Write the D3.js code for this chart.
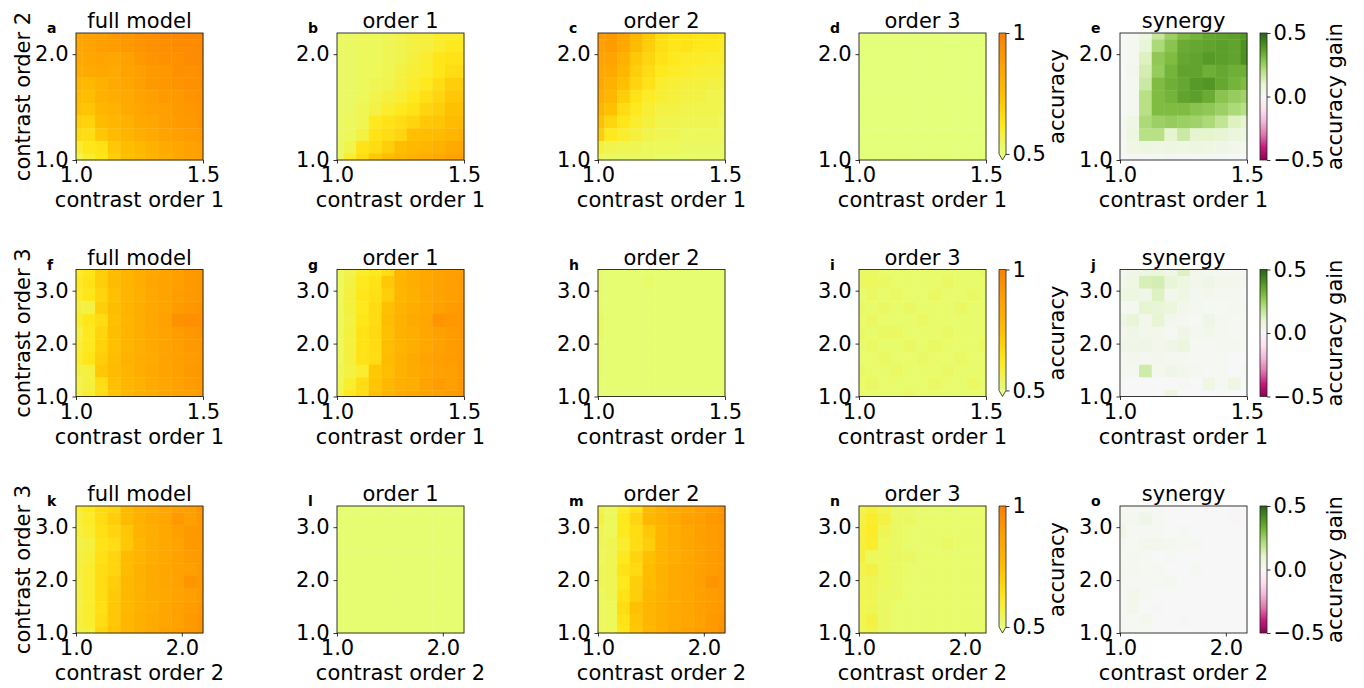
<!DOCTYPE html>
<html><head><meta charset="utf-8">
<script src="https://cdn.jsdelivr.net/npm/d3@7"></script>
<style>
body{margin:0;background:#fff;}
text{font-family:"DejaVu Sans",sans-serif;fill:#000;}
</style></head><body>
<svg id="chart" width="1364" height="688"></svg>
<script>
// ---- grid coordinates and ticks ----
const contrastOrder1 = [1.0,1.05,1.1,1.15,1.2,1.25,1.3,1.35,1.4,1.45,1.5];
const contrastOrder2 = [1.0,1.12,1.24,1.36,1.48,1.6,1.72,1.84,1.96,2.08,2.2];
const contrastOrder3 = [1.0,1.24,1.48,1.72,1.96,2.2,2.44,2.68,2.92,3.16,3.4];
const ticksOrder1 = [1.0,1.5];
const ticksOrder2 = [1.0,2.0];
const ticksOrder3 = [1.0,2.0,3.0];
const panelTitles = ["full model","order 1","order 2","order 3","synergy"];
const panelLetters = ["a","b","c","d","e","f","g","h","i","j","k","l","m","n","o"];
const rowXLabels = ["contrast order 1","contrast order 1","contrast order 2"];
const rowYLabels = ["contrast order 2","contrast order 3","contrast order 3"];
const accuracyTicks = [0.5,1];
const gainTicks = [-0.5,0,0.5];
const accuracyLabel = "accuracy";
const gainLabel = "accuracy gain";

// ---- values: each grid lists rows from top (highest y contrast) to bottom ----
const aFull = [
[0.86,0.87,0.88,0.90,0.91,0.93,0.94,0.95,0.96,0.97,0.97],
[0.85,0.86,0.88,0.89,0.90,0.92,0.93,0.94,0.95,0.95,0.96],
[0.84,0.85,0.86,0.85,0.87,0.90,0.92,0.93,0.93,0.95,0.95],
[0.82,0.83,0.84,0.83,0.86,0.88,0.90,0.91,0.93,0.93,0.94],
[0.78,0.77,0.80,0.83,0.85,0.88,0.90,0.91,0.92,0.93,0.93],
[0.76,0.75,0.80,0.82,0.83,0.86,0.88,0.90,0.90,0.92,0.93],
[0.74,0.73,0.78,0.80,0.83,0.85,0.87,0.88,0.90,0.91,0.92],
[0.70,0.69,0.76,0.78,0.80,0.84,0.85,0.88,0.89,0.90,0.92],
[0.67,0.66,0.72,0.76,0.79,0.82,0.83,0.86,0.88,0.89,0.90],
[0.60,0.63,0.64,0.72,0.75,0.77,0.80,0.83,0.85,0.87,0.88],
[0.55,0.60,0.63,0.70,0.74,0.76,0.79,0.81,0.84,0.86,0.87]];
const bOrder1 = [
[0.53,0.53,0.54,0.54,0.55,0.56,0.58,0.58,0.60,0.60,0.61],
[0.53,0.53,0.54,0.54,0.55,0.56,0.57,0.58,0.60,0.62,0.62],
[0.53,0.53,0.54,0.54,0.55,0.56,0.58,0.60,0.63,0.64,0.64],
[0.53,0.53,0.54,0.54,0.55,0.57,0.59,0.60,0.63,0.66,0.66],
[0.53,0.53,0.54,0.55,0.56,0.58,0.60,0.62,0.66,0.70,0.70],
[0.53,0.53,0.54,0.56,0.58,0.59,0.62,0.65,0.68,0.72,0.72],
[0.53,0.53,0.55,0.57,0.60,0.62,0.64,0.68,0.70,0.74,0.74],
[0.53,0.54,0.55,0.62,0.64,0.66,0.68,0.72,0.73,0.76,0.76],
[0.53,0.54,0.57,0.64,0.66,0.68,0.74,0.75,0.76,0.78,0.80],
[0.53,0.56,0.64,0.66,0.70,0.75,0.77,0.78,0.80,0.83,0.84],
[0.53,0.60,0.66,0.72,0.75,0.78,0.80,0.82,0.84,0.86,0.88]];
const cOrder2 = [
[0.90,0.90,0.86,0.78,0.72,0.66,0.64,0.64,0.63,0.63,0.62],
[0.88,0.89,0.84,0.76,0.70,0.65,0.63,0.64,0.62,0.62,0.61],
[0.86,0.86,0.80,0.72,0.68,0.64,0.62,0.61,0.61,0.60,0.60],
[0.85,0.84,0.78,0.70,0.66,0.62,0.61,0.60,0.59,0.59,0.58],
[0.84,0.80,0.74,0.68,0.64,0.60,0.59,0.58,0.58,0.57,0.57],
[0.82,0.78,0.70,0.64,0.61,0.59,0.58,0.57,0.57,0.56,0.56],
[0.78,0.74,0.66,0.62,0.59,0.57,0.57,0.56,0.56,0.56,0.55],
[0.74,0.68,0.63,0.60,0.58,0.56,0.56,0.55,0.55,0.55,0.54],
[0.70,0.62,0.60,0.58,0.56,0.55,0.55,0.54,0.54,0.54,0.54],
[0.58,0.56,0.55,0.55,0.54,0.54,0.54,0.53,0.53,0.53,0.53],
[0.54,0.53,0.53,0.53,0.53,0.52,0.52,0.52,0.52,0.52,0.52]];
const dOrder3 = [
[0.50,0.50,0.50,0.50,0.50,0.50,0.50,0.50,0.50,0.50,0.50],
[0.50,0.50,0.50,0.50,0.50,0.50,0.50,0.50,0.50,0.50,0.50],
[0.50,0.50,0.50,0.50,0.50,0.50,0.50,0.50,0.50,0.50,0.50],
[0.50,0.50,0.50,0.50,0.50,0.50,0.50,0.50,0.50,0.50,0.50],
[0.50,0.50,0.50,0.50,0.50,0.50,0.50,0.50,0.50,0.50,0.50],
[0.50,0.50,0.50,0.50,0.50,0.50,0.50,0.50,0.50,0.50,0.50],
[0.50,0.50,0.50,0.50,0.50,0.50,0.50,0.50,0.50,0.50,0.50],
[0.50,0.50,0.50,0.50,0.50,0.50,0.50,0.50,0.50,0.50,0.50],
[0.50,0.50,0.50,0.50,0.50,0.50,0.50,0.50,0.50,0.50,0.50],
[0.50,0.50,0.50,0.50,0.50,0.50,0.50,0.50,0.50,0.50,0.50],
[0.50,0.50,0.50,0.50,0.50,0.50,0.50,0.50,0.50,0.50,0.50]];
const eSynergy = [
[0.00,0.01,0.06,0.17,0.25,0.30,0.32,0.35,0.36,0.37,0.38],
[0.00,0.02,0.08,0.22,0.28,0.34,0.35,0.36,0.37,0.36,0.40],
[0.00,0.02,0.12,0.27,0.30,0.35,0.36,0.38,0.37,0.36,0.40],
[0.00,0.03,0.14,0.26,0.32,0.36,0.36,0.33,0.35,0.33,0.33],
[0.00,0.02,0.16,0.30,0.33,0.35,0.38,0.39,0.35,0.32,0.30],
[0.00,0.02,0.20,0.30,0.32,0.36,0.37,0.34,0.28,0.26,0.24],
[0.00,0.02,0.20,0.30,0.30,0.30,0.28,0.27,0.25,0.22,0.20],
[0.02,0.05,0.22,0.25,0.26,0.25,0.24,0.22,0.18,0.12,0.10],
[0.02,0.06,0.20,0.20,0.10,0.16,0.10,0.10,0.09,0.07,0.06],
[0.01,0.05,0.06,0.05,0.06,0.05,0.06,0.05,0.04,0.03,0.02],
[0.00,0.01,0.01,0.01,0.02,0.01,0.01,0.01,0.01,0.00,0.00]];
const fFull = [
[0.60,0.63,0.70,0.75,0.79,0.82,0.84,0.86,0.88,0.90,0.91],
[0.62,0.64,0.70,0.76,0.79,0.82,0.85,0.86,0.88,0.90,0.91],
[0.61,0.63,0.68,0.74,0.78,0.81,0.84,0.86,0.89,0.90,0.91],
[0.58,0.57,0.70,0.75,0.79,0.82,0.84,0.86,0.89,0.91,0.92],
[0.60,0.63,0.66,0.74,0.78,0.82,0.85,0.87,0.93,0.94,0.93],
[0.57,0.62,0.68,0.75,0.79,0.82,0.84,0.86,0.89,0.91,0.92],
[0.59,0.62,0.69,0.74,0.78,0.81,0.84,0.86,0.88,0.90,0.91],
[0.60,0.63,0.70,0.75,0.80,0.82,0.83,0.86,0.88,0.89,0.90],
[0.58,0.58,0.72,0.76,0.79,0.82,0.84,0.86,0.88,0.90,0.91],
[0.56,0.58,0.66,0.74,0.78,0.80,0.83,0.85,0.87,0.89,0.90],
[0.56,0.60,0.66,0.73,0.77,0.80,0.82,0.85,0.87,0.88,0.90]];
const gOrder1 = [
[0.54,0.56,0.60,0.62,0.66,0.78,0.82,0.84,0.86,0.88,0.88],
[0.54,0.57,0.62,0.64,0.72,0.79,0.82,0.84,0.86,0.88,0.89],
[0.54,0.58,0.63,0.65,0.70,0.78,0.81,0.84,0.86,0.88,0.89],
[0.54,0.58,0.62,0.66,0.74,0.79,0.82,0.84,0.87,0.89,0.90],
[0.54,0.57,0.63,0.66,0.75,0.80,0.83,0.85,0.92,0.91,0.90],
[0.54,0.58,0.64,0.67,0.74,0.80,0.82,0.85,0.87,0.89,0.90],
[0.54,0.58,0.64,0.66,0.75,0.79,0.82,0.84,0.87,0.89,0.90],
[0.54,0.58,0.64,0.66,0.76,0.80,0.83,0.86,0.88,0.89,0.90],
[0.55,0.57,0.60,0.72,0.75,0.80,0.83,0.85,0.87,0.88,0.90],
[0.55,0.60,0.66,0.73,0.77,0.81,0.82,0.86,0.89,0.88,0.90],
[0.56,0.62,0.66,0.74,0.78,0.82,0.84,0.86,0.88,0.89,0.90]];
const hOrder2 = [
[0.52,0.51,0.51,0.51,0.51,0.51,0.51,0.51,0.51,0.51,0.51],
[0.52,0.51,0.51,0.51,0.52,0.51,0.51,0.51,0.51,0.51,0.51],
[0.52,0.51,0.51,0.51,0.51,0.51,0.51,0.51,0.51,0.51,0.51],
[0.52,0.51,0.51,0.51,0.51,0.51,0.51,0.51,0.51,0.51,0.51],
[0.53,0.51,0.51,0.51,0.51,0.51,0.51,0.51,0.51,0.51,0.51],
[0.53,0.51,0.51,0.51,0.51,0.51,0.51,0.51,0.51,0.51,0.51],
[0.52,0.51,0.51,0.51,0.51,0.51,0.51,0.51,0.51,0.51,0.51],
[0.52,0.51,0.51,0.51,0.51,0.51,0.51,0.51,0.51,0.51,0.51],
[0.52,0.51,0.51,0.51,0.51,0.51,0.51,0.51,0.51,0.51,0.51],
[0.51,0.51,0.51,0.51,0.51,0.51,0.51,0.51,0.51,0.51,0.51],
[0.51,0.51,0.51,0.51,0.51,0.51,0.51,0.51,0.51,0.51,0.51]];
const iOrder3 = [
[0.53,0.53,0.52,0.52,0.52,0.52,0.52,0.52,0.52,0.52,0.53],
[0.53,0.54,0.53,0.52,0.52,0.52,0.52,0.53,0.52,0.52,0.52],
[0.52,0.53,0.52,0.53,0.52,0.52,0.53,0.52,0.52,0.53,0.52],
[0.53,0.52,0.53,0.52,0.53,0.52,0.52,0.52,0.53,0.52,0.52],
[0.52,0.53,0.52,0.52,0.52,0.53,0.52,0.52,0.52,0.52,0.52],
[0.53,0.52,0.53,0.53,0.52,0.52,0.52,0.53,0.52,0.52,0.52],
[0.52,0.53,0.52,0.52,0.53,0.52,0.53,0.52,0.52,0.52,0.53],
[0.52,0.52,0.53,0.52,0.52,0.53,0.52,0.52,0.53,0.52,0.52],
[0.53,0.52,0.52,0.53,0.52,0.52,0.52,0.53,0.52,0.52,0.52],
[0.52,0.53,0.52,0.52,0.52,0.52,0.53,0.52,0.52,0.53,0.52],
[0.52,0.52,0.52,0.52,0.53,0.52,0.52,0.52,0.52,0.52,0.52]];
const jSynergy = [
[0.02,0.04,0.06,0.07,0.04,0.12,0.03,0.02,0.02,0.02,0.01],
[0.03,0.05,0.13,0.14,0.08,0.06,0.03,0.04,0.03,0.03,0.02],
[0.06,0.06,0.04,0.12,0.03,0.05,0.02,0.03,0.02,0.02,0.01],
[0.01,0.02,0.10,0.08,0.07,0.03,0.02,0.01,0.01,0.02,0.02],
[0.05,0.08,0.03,0.09,0.03,0.02,0.01,0.04,0.02,0.01,0.01],
[0.03,0.04,0.03,0.03,0.01,0.04,0.02,0.03,0.02,0.01,0.01],
[0.04,0.04,0.04,0.03,0.04,0.07,0.01,0.01,0.02,0.02,0.01],
[0.02,0.03,0.02,0.03,0.02,0.02,0.01,0.01,0.01,0.00,0.00],
[0.02,0.02,0.15,0.02,0.04,0.03,0.02,0.01,0.01,0.00,0.01],
[0.00,0.00,0.00,0.00,0.00,0.01,0.00,0.05,0.01,0.05,0.00],
[0.00,0.00,0.00,0.00,0.06,0.00,0.00,0.00,0.00,0.00,0.00]];
const kFull = [
[0.60,0.62,0.66,0.68,0.76,0.80,0.82,0.85,0.87,0.88,0.92],
[0.58,0.61,0.66,0.70,0.76,0.80,0.83,0.85,0.90,0.88,0.91],
[0.58,0.60,0.65,0.68,0.72,0.80,0.82,0.84,0.88,0.90,0.91],
[0.57,0.58,0.64,0.66,0.72,0.78,0.82,0.84,0.86,0.90,0.90],
[0.58,0.59,0.65,0.68,0.76,0.79,0.82,0.84,0.87,0.89,0.90],
[0.58,0.60,0.66,0.68,0.76,0.80,0.83,0.85,0.87,0.88,0.90],
[0.57,0.60,0.66,0.70,0.77,0.80,0.83,0.85,0.87,0.92,0.90],
[0.57,0.60,0.66,0.71,0.77,0.80,0.83,0.84,0.86,0.88,0.90],
[0.57,0.60,0.65,0.72,0.77,0.80,0.82,0.85,0.87,0.89,0.91],
[0.58,0.60,0.66,0.72,0.78,0.81,0.83,0.85,0.87,0.90,0.92],
[0.57,0.58,0.68,0.73,0.78,0.81,0.83,0.86,0.88,0.90,0.92]];
const lOrder1 = [
[0.51,0.51,0.51,0.51,0.51,0.51,0.51,0.51,0.51,0.51,0.51],
[0.51,0.51,0.51,0.51,0.51,0.51,0.51,0.51,0.51,0.51,0.51],
[0.51,0.51,0.51,0.51,0.51,0.51,0.51,0.51,0.51,0.51,0.51],
[0.51,0.51,0.51,0.51,0.51,0.51,0.51,0.51,0.51,0.51,0.51],
[0.51,0.51,0.51,0.51,0.51,0.51,0.51,0.51,0.51,0.51,0.51],
[0.51,0.51,0.51,0.51,0.51,0.51,0.51,0.51,0.51,0.51,0.51],
[0.51,0.51,0.51,0.51,0.51,0.51,0.51,0.51,0.51,0.51,0.51],
[0.51,0.51,0.51,0.51,0.51,0.51,0.51,0.51,0.51,0.51,0.51],
[0.51,0.51,0.51,0.51,0.51,0.51,0.51,0.51,0.51,0.51,0.51],
[0.51,0.51,0.51,0.51,0.51,0.51,0.51,0.51,0.51,0.51,0.51],
[0.51,0.51,0.51,0.51,0.51,0.51,0.51,0.51,0.51,0.51,0.51]];
const mOrder2 = [
[0.56,0.54,0.60,0.64,0.76,0.80,0.83,0.85,0.87,0.89,0.92],
[0.58,0.54,0.62,0.68,0.77,0.80,0.83,0.87,0.88,0.90,0.92],
[0.55,0.54,0.62,0.66,0.72,0.78,0.82,0.85,0.87,0.89,0.91],
[0.55,0.55,0.60,0.66,0.70,0.79,0.82,0.85,0.87,0.89,0.91],
[0.54,0.55,0.62,0.68,0.74,0.79,0.82,0.84,0.87,0.89,0.91],
[0.55,0.55,0.64,0.67,0.75,0.80,0.83,0.85,0.87,0.89,0.91],
[0.55,0.55,0.62,0.70,0.76,0.80,0.83,0.85,0.88,0.92,0.91],
[0.54,0.55,0.64,0.70,0.77,0.80,0.83,0.85,0.87,0.89,0.91],
[0.54,0.54,0.66,0.74,0.78,0.81,0.83,0.85,0.87,0.89,0.91],
[0.54,0.54,0.64,0.73,0.78,0.81,0.83,0.85,0.87,0.90,0.92],
[0.54,0.54,0.63,0.72,0.78,0.81,0.84,0.86,0.88,0.90,0.93]];
const nOrder3 = [
[0.56,0.58,0.56,0.53,0.53,0.52,0.52,0.52,0.52,0.52,0.52],
[0.57,0.60,0.57,0.53,0.53,0.52,0.52,0.52,0.52,0.52,0.52],
[0.58,0.61,0.55,0.53,0.52,0.52,0.52,0.52,0.52,0.52,0.52],
[0.58,0.60,0.54,0.53,0.52,0.52,0.52,0.53,0.52,0.52,0.52],
[0.58,0.54,0.54,0.53,0.53,0.52,0.52,0.52,0.52,0.52,0.52],
[0.56,0.57,0.54,0.53,0.52,0.52,0.52,0.52,0.52,0.52,0.52],
[0.55,0.55,0.54,0.53,0.52,0.52,0.52,0.52,0.52,0.52,0.52],
[0.55,0.55,0.53,0.53,0.52,0.52,0.52,0.52,0.52,0.52,0.52],
[0.55,0.55,0.53,0.52,0.52,0.52,0.52,0.52,0.52,0.52,0.52],
[0.55,0.57,0.53,0.52,0.52,0.52,0.52,0.52,0.52,0.52,0.52],
[0.55,0.56,0.53,0.52,0.52,0.52,0.52,0.52,0.52,0.52,0.52]];
const oSynergy = [
[0.01,0.02,0.02,0.01,0.00,0.00,0.00,0.00,0.00,-0.01,0.00],
[0.02,0.02,0.04,0.01,0.00,0.00,0.00,0.00,0.00,-0.01,0.00],
[0.05,0.01,0.01,0.01,0.00,0.01,0.00,0.00,0.00,0.00,0.00],
[0.02,0.01,0.03,0.03,0.02,0.01,0.01,0.00,0.00,0.00,0.00],
[0.01,0.02,0.01,0.00,0.01,0.00,0.00,0.00,0.00,0.00,0.00],
[0.02,0.02,0.01,0.01,0.00,0.00,0.01,0.00,0.00,0.00,0.00],
[0.01,0.01,0.01,0.01,0.02,0.00,0.00,0.00,0.00,0.00,0.00],
[0.01,0.03,0.01,0.00,0.00,0.00,0.00,0.00,0.00,0.00,0.00],
[0.01,0.03,0.00,-0.01,0.00,0.00,0.00,0.00,0.00,0.00,0.00],
[0.01,0.01,0.02,0.00,0.00,-0.01,0.00,0.00,0.00,0.00,0.00],
[0.01,0.01,0.01,0.00,0.00,0.00,0.00,0.00,0.00,0.00,0.00]];

// ---- colour maps (matplotlib Wistia and PiYG) ----
const wistiaColors = ["#e4ff7a","#ffe81a","#ffbd00","#ffa000","#fc7f00"];
const piygColors = ["#8e0152","#c51b7d","#de77ae","#f1b6da","#fde0ef","#f7f7f7","#e6f5d0","#b8e186","#7fbc41","#4d9221","#276419"];
const accColor = d3.scaleLinear().domain([0.5,0.625,0.75,0.875,1.0]).range(wistiaColors).clamp(true);
const gainColor = d3.scaleLinear().domain([-0.5,-0.4,-0.3,-0.2,-0.1,0,0.1,0.2,0.3,0.4,0.5]).range(piygColors).clamp(true);

// ---- layout ----
const svg = d3.select("#chart");
const W = 127, H = 127;
const colX = [76,337,598,859,1120];
const rowY = [33,269.5,506];
const FS = 21;

const rows = [
  {xv: contrastOrder1, yv: contrastOrder2, xt: ticksOrder1, yt: ticksOrder2, grids: [aFull,bOrder1,cOrder2,dOrder3,eSynergy]},
  {xv: contrastOrder1, yv: contrastOrder3, xt: ticksOrder1, yt: ticksOrder3, grids: [fFull,gOrder1,hOrder2,iOrder3,jSynergy]},
  {xv: contrastOrder2, yv: contrastOrder3, xt: ticksOrder2, yt: ticksOrder3, grids: [kFull,lOrder1,mOrder2,nOrder3,oSynergy]}
];

const defs = svg.append("defs");
function addGradient(id, colors) {
  const g = defs.append("linearGradient").attr("id", id).attr("x1",0).attr("x2",0).attr("y1",1).attr("y2",0);
  colors.forEach((c,i) => g.append("stop").attr("offset", (i/(colors.length-1))).attr("stop-color", c));
}
addGradient("gradAcc", wistiaColors);
addGradient("gradGain", piygColors);

const fmt1 = d3.format(".1f");

function styleAxis(g) {
  g.select(".domain").remove();
  g.selectAll(".tick line").attr("stroke","#000").attr("stroke-width",0.8);
  g.selectAll(".tick text").attr("font-size",FS).attr("font-family","DejaVu Sans").attr("fill","#000");
}

rows.forEach((row, ri) => {
  const xs = d3.scaleLinear().domain([row.xv[0], row.xv[row.xv.length-1]]).range([0,W]);
  const ys = d3.scaleLinear().domain([row.yv[0], row.yv[row.yv.length-1]]).range([H,0]);
  const dx = row.xv[1]-row.xv[0], dy = row.yv[1]-row.yv[0];
  const n = row.yv.length;
  row.grids.forEach((grid, ci) => {
    const isGain = ci === 4;
    const color = isGain ? gainColor : accColor;
    const g = svg.append("g").attr("transform", `translate(${colX[ci]},${rowY[ri]})`);
    const cells = [];
    grid.forEach((rowVals, r) => {
      const yVal = row.yv[n-1-r];
      rowVals.forEach((v, c) => cells.push({x: row.xv[c], y: yVal, v}));
    });
    g.selectAll("rect.cell").data(cells).join("rect").attr("class","cell")
      .attr("x", d => Math.max(0, xs(d.x - dx/2)))
      .attr("y", d => Math.max(0, ys(d.y + dy/2)))
      .attr("width", d => Math.min(W, xs(d.x + dx/2)) - Math.max(0, xs(d.x - dx/2)) + 0.4)
      .attr("height", d => Math.min(H, ys(d.y - dy/2)) - Math.max(0, ys(d.y + dy/2)) + 0.4)
      .attr("fill", d => color(d.v));
    // frame
    g.append("rect").attr("x",0).attr("y",0).attr("width",W).attr("height",H)
      .attr("fill","none").attr("stroke","#222").attr("stroke-width",0.9);
    // axes
    const ax = g.append("g").attr("transform",`translate(0,${H})`)
      .call(d3.axisBottom(xs).tickValues(row.xt).tickFormat(fmt1).tickSize(3.5).tickPadding(4).tickSizeOuter(0));
    styleAxis(ax);
    const ay = g.append("g")
      .call(d3.axisLeft(ys).tickValues(row.yt).tickFormat(fmt1).tickSize(3.5).tickPadding(4).tickSizeOuter(0));
    styleAxis(ay);
    // title, letter, x label
    g.append("text").attr("x",W/2).attr("y",-5).attr("text-anchor","middle").attr("font-size",FS).text(panelTitles[ci]);
    g.append("text").attr("x",-29).attr("y",0).attr("font-size",14).attr("font-weight","bold").text(panelLetters[ri*5+ci]);
    g.append("text").attr("x",W/2).attr("y",H+47).attr("text-anchor","middle").attr("font-size",FS).text(rowXLabels[ri]);
    if (ci === 0) {
      g.append("text").attr("transform",`translate(-46,${H/2}) rotate(-90)`).attr("text-anchor","middle")
        .attr("font-size",FS).text(rowYLabels[ri]);
    }
    // colorbars
    if (ci === 3 || ci === 4) {
      const cb = g.append("g").attr("transform",`translate(${W+13},0)`);
      const cw = 7;
      if (ci === 3) {
        const bodyH = H/1.05;
        const cs = d3.scaleLinear().domain([accuracyTicks[0], accuracyTicks[1]]).range([bodyH,0]);
        cb.append("rect").attr("x",0).attr("y",0).attr("width",cw).attr("height",bodyH).attr("fill","url(#gradAcc)");
        cb.append("path").attr("d",`M0,${bodyH}L${cw},${bodyH}L${cw/2},${H}Z`).attr("fill",accColor(0.5));
        cb.append("path").attr("d",`M0,0L${cw},0L${cw},${bodyH}L${cw/2},${H}L0,${bodyH}Z`)
          .attr("fill","none").attr("stroke","#222").attr("stroke-width",0.8);
        const a = cb.append("g").attr("transform",`translate(${cw},0)`)
          .call(d3.axisRight(cs).tickValues(accuracyTicks).tickFormat(d3.format("~g")).tickSize(3.5).tickPadding(3).tickSizeOuter(0));
        styleAxis(a);
        cb.append("text").attr("transform",`translate(65,${H/2}) rotate(-90)`).attr("text-anchor","middle")
          .attr("font-size",FS).text(accuracyLabel);
      } else {
        const cs = d3.scaleLinear().domain([gainTicks[0], gainTicks[2]]).range([H,0]);
        cb.append("rect").attr("x",0).attr("y",0).attr("width",cw).attr("height",H).attr("fill","url(#gradGain)")
          .attr("stroke","#222").attr("stroke-width",0.8);
        const a = cb.append("g").attr("transform",`translate(${cw},0)`)
          .call(d3.axisRight(cs).tickValues(gainTicks).tickFormat(fmt1).tickSize(3.5).tickPadding(3).tickSizeOuter(0));
        styleAxis(a);
        cb.append("text").attr("transform",`translate(82,${H/2}) rotate(-90)`).attr("text-anchor","middle")
          .attr("font-size",FS).text(gainLabel);
      }
    }
  });
});
</script>
</body></html>
